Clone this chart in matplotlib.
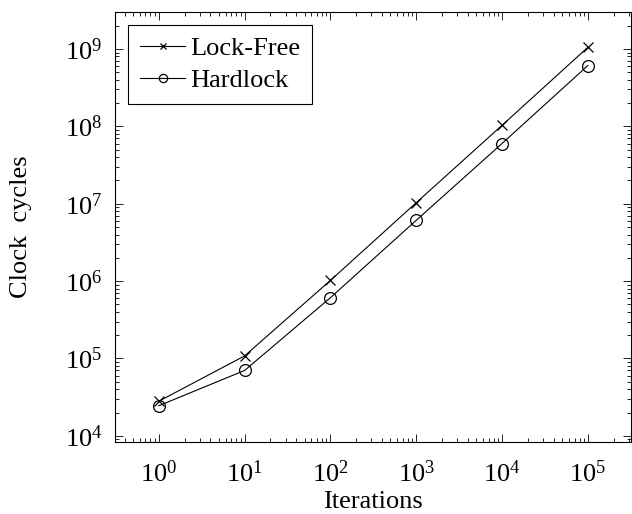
import matplotlib
matplotlib.use('Agg')
import matplotlib.pyplot as plt
from matplotlib.ticker import LogLocator, NullFormatter

plt.rcParams['font.family'] = ['Liberation Serif', 'DejaVu Serif']
plt.rcParams['mathtext.fontset'] = 'stix'

iterations = [1, 10, 100, 1000, 10000, 100000]
lock_free = [2.8e4, 1.08e5, 1.02e6, 1.03e7, 1.03e8, 1.05e9]
hardlock = [2.45e4, 7.0e4, 6.1e5, 6.1e6, 6.0e7, 6.1e8]
y_ticks = [1e4, 1e5, 1e6, 1e7, 1e8, 1e9]

fig = plt.figure(figsize=(6.32, 5.14), dpi=100)
ax = fig.add_axes([0.182, 0.140, 0.816, 0.837])

ax.plot(iterations, lock_free, color='black', lw=0.8, marker='x',
        markersize=7, markeredgewidth=0.9, label='Lock-Free')
ax.plot(iterations, hardlock, color='black', lw=0.8, marker='o',
        markersize=8.5, markeredgewidth=0.9, markerfacecolor='none', label='Hardlock')

ax.set_xscale('log')
ax.set_yscale('log')
ax.set_xlim(10 ** -0.51, 10 ** 5.5)
ax.set_ylim(10 ** 3.92, 10 ** 9.48)

ax.set_xticks(iterations)
ax.set_yticks(y_ticks)
ax.xaxis.set_minor_locator(LogLocator(base=10, subs=range(2, 10), numticks=20))
ax.yaxis.set_minor_locator(LogLocator(base=10, subs=range(2, 10), numticks=20))
ax.xaxis.set_minor_formatter(NullFormatter())
ax.yaxis.set_minor_formatter(NullFormatter())

ax.tick_params(which='both', direction='in', top=True, right=True, labelsize=19, width=0.6)
ax.tick_params(which='major', length=6)
ax.tick_params(which='minor', length=3)
ax.tick_params(axis='x', which='major', pad=13)
ax.tick_params(axis='y', which='major', pad=9)
for s in ax.spines.values():
    s.set_linewidth(0.8)

ax.set_xlabel('Iterations', fontsize=19, labelpad=3)
ax.set_ylabel('Clock  cycles', fontsize=19, labelpad=24)

leg = ax.legend(loc='upper left', fontsize=19, fancybox=False, edgecolor='black',
                framealpha=1, handlelength=1.7, handletextpad=0.2, borderpad=0.45,
                labelspacing=0.3, borderaxespad=0.5, markerscale=0.7)
leg.get_frame().set_linewidth(0.8)

fig.savefig('out.png', dpi=100)
